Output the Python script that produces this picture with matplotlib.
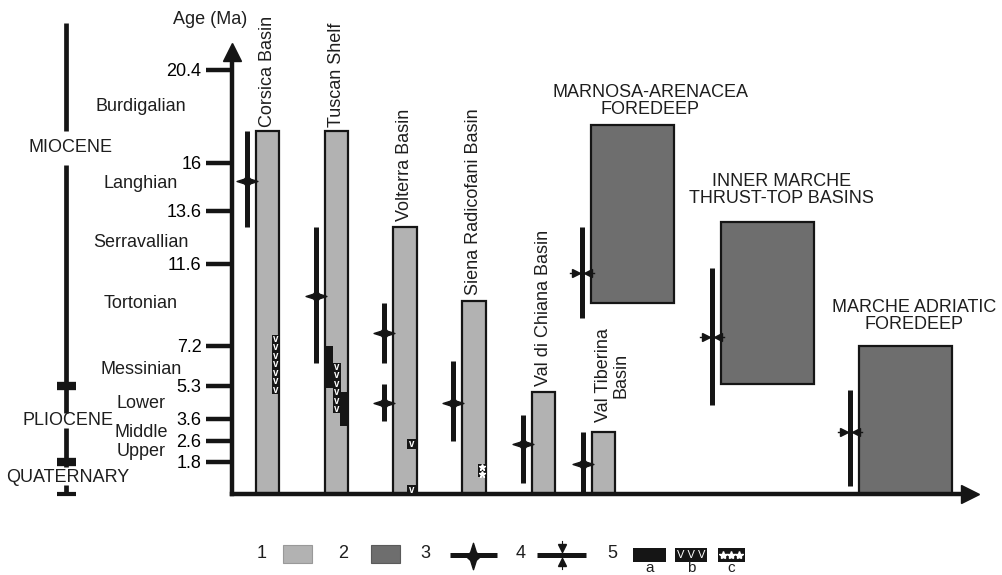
import numpy as np
import matplotlib
matplotlib.use('Agg')
import matplotlib.pyplot as plt
from matplotlib.patches import Rectangle
from matplotlib.path import Path

plt.rcParams['font.family'] = ['Liberation Sans', 'DejaVu Sans']
plt.rcParams['font.size'] = 13
plt.rcParams['text.color'] = '#1e1e1e'

# --- time scale (Ma) ---
tick_ages = [20.4, 16, 13.6, 11.6, 7.2, 5.3, 3.6, 2.6, 1.8]
tick_labels = ['20.4', '16', '13.6', '11.6', '7.2', '5.3', '3.6', '2.6', '1.8']
stages = ['Burdigalian', 'Langhian', 'Serravallian', 'Tortonian', 'Messinian',
          'Lower', 'Middle', 'Upper']
stage_label_age = [18.65, 14.95, 12.4, 9.5, 6.1, 4.4, 3.0, 2.2]
epochs = ['MIOCENE', 'PLIOCENE', 'QUATERNARY']
epoch_label_age = [16.75, 3.55, 0.95]
epoch_bounds = [5.3, 1.8]

# --- basins: 1 = light grey, 2 = dark grey ---
basins = ['Corsica Basin', 'Tuscan Shelf', 'Volterra Basin', 'Siena Radicofani Basin',
          'Val di Chiana Basin', 'Val Tiberina\nBasin', 'MARNOSA-ARENACEA\nFOREDEEP',
          'INNER MARCHE\nTHRUST-TOP BASINS', 'MARCHE ADRIATIC\nFOREDEEP']
basin_kind = [1, 1, 1, 1, 1, 1, 2, 2, 2]
basin_top = [17.5, 17.5, 13.0, 9.6, 5.0, 3.0, 17.8, 13.2, 7.2]
basin_bottom = [0, 0, 0, 0, 0, 0, 9.5, 5.4, 0]

# --- deformation bars: 3 = diamond, 4 = converging arrows ---
deform_basin = [0, 1, 2, 2, 3, 4, 5, 6, 7, 8]
deform_top = [17.5, 13.0, 9.5, 5.4, 6.5, 3.8, 3.0, 13.0, 11.4, 5.1]
deform_bottom = [13.0, 6.4, 6.4, 3.5, 2.6, 0.6, 0.0, 8.7, 4.3, 0.45]
deform_mark = [15.1, 9.9, 7.9, 4.4, 4.4, 2.5, 1.7, 11.1, 7.7, 3.0]
deform_kind = [3, 3, 3, 3, 3, 3, 3, 4, 4, 4]

# --- magmatism: a = black, b = v, c = stars ---
magma_basin = [0, 1, 1, 1, 2, 2, 3]
magma_top = [7.8, 7.2, 6.4, 5.0, 2.7, 0.5, 1.7]
magma_bottom = [4.9, 5.2, 3.9, 3.3, 2.3, 0.0, 0.95]
magma_kind = ['b', 'a', 'b', 'a', 'b', 'b', 'c']

# layout (x in px from the age axis)
bar_x = [35.5, 104.5, 173, 242, 311.5, 371.5, 400.5, 535.5, 673.5]
bar_w = [23, 23, 24, 24, 23, 23, 83, 93, 93]
label_dx = [0, 0, 0, 0, 0, 9, 18, 14, 9]
label_dy = [4, 4, 6, 6, 6, 10, 7, 15, 13]
magma_span = [(0.7, 1.0), (0.04, 0.35), (0.35, 0.7), (0.65, 1.0),
              (0.58, 1.0), (0.58, 1.0), (0.67, 0.96)]

# non-linear age axis as drawn in the chart
age_knots = [0, 1.8, 2.6, 3.6, 5.3, 7.2, 11.6, 13.6, 16, 20.4, 24]
pos_knots = [0, 32, 53, 75, 108, 148, 230, 283, 331, 424, 500]


def fwd(a):
    return np.interp(a, age_knots, pos_knots)


def inv(p):
    return np.interp(p, pos_knots, age_knots)


W, H = 1003, 575
px = 0.72  # points per pixel at dpi 100
ink = '#151515'
light, dark = '#b2b2b2', '#6e6e6e'

fig = plt.figure(figsize=(W / 100, H / 100), dpi=100)
lg = fig.add_axes([0, 0, 1, 1])
lg.set_xlim(0, W)
lg.set_ylim(H, 0)
lg.axis('off')

ax = fig.add_axes([232 / W, (H - 494) / H, (970 - 232) / W, (494 - 52) / H])
ax.set_yscale('function', functions=(fwd, inv))
ax.set_ylim(0, 21.25)
ax.set_xlim(0, 738)
ax.patch.set_alpha(0)
for s in ['top', 'right']:
    ax.spines[s].set_visible(False)
for s in ['left', 'bottom']:
    ax.spines[s].set_linewidth(3.2)
    ax.spines[s].set_color(ink)
ax.set_xticks([])
ax.set_yticks(tick_ages, tick_labels)
ax.tick_params(axis='y', length=19, width=3.2, pad=3, labelsize=13, color=ink)
ax.plot(0, 1, marker='^', ms=13, color=ink, transform=ax.transAxes, clip_on=False)
ax.plot(1, 0, marker='>', ms=13, color=ink, transform=ax.transAxes, clip_on=False)
fig.text(210 / W, 1 - 20 / H, 'Age (Ma)', ha='center', va='center')

# markers
star4 = Path([(-1, 0), (-0.3, 0.22), (0, 0.55), (0.3, 0.22), (1, 0), (0.3, -0.22),
              (0, -0.55), (-0.3, -0.22), (-1, 0)], closed=True)
star4v = Path([(0, -1), (0.22, -0.3), (0.55, 0), (0.22, 0.3), (0, 1), (-0.22, 0.3),
               (-0.55, 0), (-0.22, -0.3), (0, -1)], closed=True)

# basin bars and names
for i, name in enumerate(basins):
    col = light if basin_kind[i] == 1 else dark
    ax.bar(bar_x[i], basin_top[i] - basin_bottom[i], bottom=basin_bottom[i],
           width=bar_w[i], color=col, edgecolor=ink, lw=1.6, zorder=2)
    rot = 90 if basin_kind[i] == 1 else 0
    ax.annotate(name, (bar_x[i], basin_top[i]),
                xytext=(label_dx[i] * px, label_dy[i] * px), textcoords='offset points',
                rotation=rot, ha='center', va='bottom', multialignment='center',
                linespacing=1.0, fontsize=13, annotation_clip=False)

# deformation
for b, t, bt, m, k in zip(deform_basin, deform_top, deform_bottom, deform_mark, deform_kind):
    x = bar_x[b] - bar_w[b] / 2 - 9
    ax.plot([x, x], [bt, t], color=ink, lw=3.6, solid_capstyle='butt', zorder=3)
    if k == 3:
        ax.plot(x, m, marker=star4, ms=15, color=ink, zorder=4)
    else:
        ax.plot([x - 12, x + 12], [m, m], color=ink, lw=1.0, zorder=4)
        ax.plot(x - 6, m, marker='>', ms=6, color=ink, zorder=4)
        ax.plot(x + 6, m, marker='<', ms=6, color=ink, zorder=4)

# magmatism strips
for b, t, bt, k, (f0, f1) in zip(magma_basin, magma_top, magma_bottom, magma_kind, magma_span):
    left = bar_x[b] - bar_w[b] / 2
    x0, x1 = left + f0 * bar_w[b], left + f1 * bar_w[b]
    xc = (x0 + x1) / 2
    ax.bar(xc, t - bt, bottom=bt, width=x1 - x0, color=ink, lw=0, zorder=5)
    span = fwd(t) - fwd(bt)
    n = max(1, int(round(span / 8.5)))
    ys = inv(fwd(bt) + (np.arange(n) + 0.5) * span / n)
    if k == 'b':
        for y in ys:
            ax.text(xc, y, 'v', ha='center', va='center', fontsize=7, color='white',
                    fontweight='bold', zorder=6)
    elif k == 'c':
        ax.plot(np.full(n, xc), ys, ls='none', marker='*', ms=5, color='white', zorder=6)

# epoch / stage column left of the axis
ex = 66 - 232
for a0, a1 in [(17.5, 22.6), (3.9, 15.9), (1.5, 3.2), (0.0, 0.5)]:
    ax.plot([ex, ex], [a0, a1], color=ink, lw=3.4, solid_capstyle='butt', clip_on=False)
for a in epoch_bounds:
    ax.plot([ex - 9.5, ex + 9.5], [a, a], color=ink, lw=6, solid_capstyle='butt', clip_on=False)
ax.plot([ex - 9.5, ex + 9.5], [0, 0], color=ink, lw=3, solid_capstyle='butt', clip_on=False)
for name, a, dx in zip(epochs, epoch_label_age, [4, 2, 2]):
    ax.text(ex + dx, a, name, ha='center', va='center', fontsize=13, clip_on=False)
for name, a in zip(stages, stage_label_age):
    ax.text(141 - 232, a, name, ha='center', va='center', fontsize=13, clip_on=False)

# legend
ly = 553
for num, x in zip(['1', '2', '3', '4', '5'], [262, 343, 425, 521, 612]):
    lg.text(x, ly, num, ha='center', va='center', fontsize=13)
lg.add_patch(Rectangle((283, ly - 8), 29, 18, facecolor=light, edgecolor='#999999', lw=0.8))
lg.add_patch(Rectangle((371, ly - 8), 29, 18, facecolor=dark, edgecolor='#5a5a5a', lw=0.8))
lg.plot([450, 497], [ly + 2, ly + 2], color=ink, lw=3.6, solid_capstyle='butt')
lg.plot(473, ly + 3, marker=star4v, ms=19, color=ink)
lg.plot([537, 586], [ly + 2, ly + 2], color=ink, lw=3.6, solid_capstyle='butt')
lg.plot([562, 562], [ly - 12, ly + 16], color=ink, lw=0.8)
lg.plot(562, ly - 5, marker='v', ms=6, color=ink)
lg.plot(562, ly + 9, marker='^', ms=6, color=ink)
for x0, w, lab, fill in [(633, 33, 'a', ''), (675, 32, 'b', 'V V V'), (718, 27, 'c', '***')]:
    lg.add_patch(Rectangle((x0, ly - 5), w, 14, facecolor=ink, edgecolor='none'))
    lg.text(x0 + w / 2, ly + 15, lab, ha='center', va='center', fontsize=11)
    if fill == 'V V V':
        lg.text(x0 + w / 2, ly + 2, fill, ha='center', va='center', fontsize=8,
                color='white')
    elif fill:
        lg.plot(x0 + w / 2 + np.array([-8, 0, 8]), [ly + 2] * 3, ls='none',
                marker='*', ms=6, color='white')

fig.savefig('out.png', dpi=100)
